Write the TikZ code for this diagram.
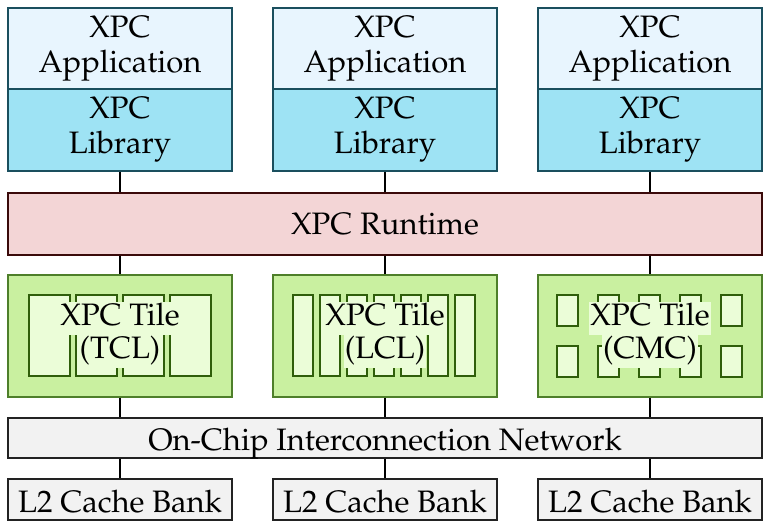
\documentclass[tikz,border=0pt]{standalone}
\usepackage[T1]{fontenc}
\usepackage{mathpazo}
\definecolor{appfill}{HTML}{E8F5FE}
\definecolor{libfill}{HTML}{9EE3F4}
\definecolor{bluedraw}{HTML}{1A4F5E}
\definecolor{rtfill}{HTML}{F3D5D6}
\definecolor{rtdraw}{HTML}{3A0A0A}
\definecolor{tilefill}{HTML}{C9F0A0}
\definecolor{tiledraw}{HTML}{4E7F2A}
\definecolor{innerfill}{HTML}{EBFDD8}
\definecolor{innerdraw}{HTML}{2F5E0A}
\definecolor{grayfill}{HTML}{F2F2F2}
\definecolor{graydraw}{HTML}{222222}
\newcommand\lbl[1]{{\setlength{\fboxsep}{0pt}\colorbox{innerfill}{\strut\hspace{1pt}#1\hspace{1pt}}}}
\begin{document}
\begin{tikzpicture}[x=1pt,y=-1pt,
  base/.style={draw, line width=1.4pt, inner sep=0pt, align=center, font=\fontsize{31}{35}\selectfont},
  appbox/.style={base, fill=appfill, draw=bluedraw, minimum width=224pt, minimum height=81pt},
  libbox/.style={base, fill=libfill, draw=bluedraw, minimum width=224pt, minimum height=82pt},
  rtbox/.style={base, fill=rtfill, draw=rtdraw, minimum width=754pt, minimum height=62pt},
  tilebox/.style={base, fill=tilefill, draw=tiledraw, minimum width=224pt, minimum height=122pt},
  netbox/.style={base, fill=grayfill, draw=graydraw, minimum width=754pt, minimum height=40pt, text height=24pt, text depth=0pt},
  l2box/.style={base, fill=grayfill, draw=graydraw, minimum width=224pt, minimum height=41pt, text height=25pt, text depth=0pt},
  inner/.style={draw=innerdraw, fill=innerfill, line width=1.4pt},
  tilelabel/.style={inner sep=0pt, align=center, font=\fontsize{31}{33}\selectfont},
  conn/.style={draw=black, line width=1.4pt}]
\useasboundingbox (0,0) rectangle (771,529);
\foreach \i/\cx in {1/120,2/385,3/650}{
  \node[appbox] (app\i) at (\cx,48.5) {XPC\\Application};
  \node[libbox] (lib\i) at (\cx,130) {XPC\\Library};
  \node[tilebox] (tile\i) at (\cx,336) {};
  \node[l2box] (l2\i) at (\cx,499.5) {L2 Cache Bank};
}
\node[rtbox] (rt) at (385,224) {XPC Runtime};
\node[netbox] (net) at (385,438) {On-Chip Interconnection Network};
% inner cores TCL
\foreach \x in {29,76,123,170}{
  \draw[inner] (\x,295) rectangle ++(41,81);
}
% LCL
\foreach \x in {293,320,347,374,401,428,455}{
  \draw[inner] (\x,295) rectangle ++(20,81);
}
% CMC
\foreach \x in {557,598,639,680,721}{
  \draw[inner] (\x,295) rectangle ++(21,31);
  \draw[inner] (\x,346) rectangle ++(21,31);
}
\node[tilelabel] (lab1) at (120,335) {\lbl{XPC Tile}\\\lbl{(TCL)}};
\node[tilelabel] (lab2) at (385,335) {\lbl{XPC Tile}\\\lbl{(LCL)}};
\node[tilelabel] (lab3) at (650,335) {\lbl{XPC Tile}\\\lbl{(CMC)}};
\foreach \i in {1,2,3}{
  \draw[conn] (lib\i.south) -- (lib\i.south |- rt.north);
  \draw[conn] (tile\i.north |- rt.south) -- (tile\i.north);
  \draw[conn] (tile\i.south) -- (tile\i.south |- net.north);
  \draw[conn] (l2\i.north |- net.south) -- (l2\i.north);
}
\end{tikzpicture}
\end{document}
